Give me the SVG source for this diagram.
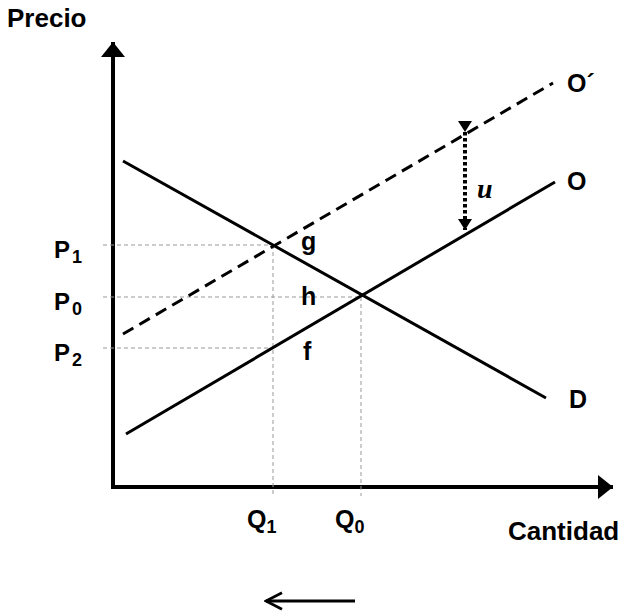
<svg xmlns="http://www.w3.org/2000/svg" width="627" height="616" viewBox="0 0 627 616">
<style>
.lbl{font-family:"Liberation Sans",Arial,sans-serif;font-weight:bold;fill:#000}
.big{font-size:26px}
.mid{font-size:25px}
.pl{font-size:24px}
.sub{font-size:18px}
.guide{stroke:#999;stroke-width:1;stroke-dasharray:4,3;fill:none}
.curve{stroke:#000;stroke-width:3;fill:none}
</style>
<defs>
<marker id="ah" viewBox="0 0 15 24" refX="15" refY="12" markerWidth="3.75" markerHeight="6" orient="auto" markerUnits="strokeWidth"><path d="M0,0 L15,12 L0,24 z" fill="#000"/></marker>
<marker id="ahs" viewBox="0 0 11 14" refX="11" refY="7" markerWidth="2.75" markerHeight="3.5" orient="auto" markerUnits="strokeWidth"><path d="M0,0 L11,7 L0,14 z" fill="#000"/></marker>
<marker id="open" viewBox="0 0 10 10" refX="9" refY="5" markerWidth="6.5" markerHeight="6.5" orient="auto" markerUnits="strokeWidth"><path d="M0.8,0.8 L9,5 L0.8,9.2" fill="none" stroke="#000" stroke-width="1.4"/></marker>
</defs>
<g id="axes">
<line x1="113" y1="489" x2="113" y2="42" stroke="#000" stroke-width="4" marker-end="url(#ah)"/>
<line x1="111" y1="487" x2="613" y2="487" stroke="#000" stroke-width="4" marker-end="url(#ah)"/>
</g>
<g id="guides">
<line class="guide" x1="103" y1="245" x2="273" y2="245"/>
<line class="guide" x1="103" y1="297" x2="361" y2="297"/>
<line class="guide" x1="103" y1="348" x2="273" y2="348"/>
<line class="guide" x1="273" y1="245" x2="273" y2="496"/>
<line class="guide" x1="361" y1="297" x2="361" y2="496"/>
</g>
<g id="connectors">
<line id="D" class="curve" x1="123" y1="161" x2="546" y2="398"/>
<line id="O" class="curve" x1="126" y1="434" x2="555" y2="182"/>
<line id="Oprime" class="curve" stroke-width="3.5" stroke-dasharray="12,7" x1="123" y1="334" x2="553" y2="83"/>
<line id="u-arrow" x1="465" y1="132" x2="465" y2="230" stroke="#000" stroke-width="4" stroke-dasharray="3.5,2.5" marker-start="url(#ahs)" marker-end="url(#ahs)"/>
<line id="shift" x1="355" y1="601" x2="266" y2="601" stroke="#000" stroke-width="3" marker-end="url(#open)"/>
</g>
<g id="labels">
<text class="lbl big" x="7" y="27">Precio</text>
<text class="lbl big" x="508" y="540">Cantidad</text>
<text class="lbl mid" x="567" y="92">O´</text>
<text class="lbl mid" x="567" y="190">O</text>
<text class="lbl mid" x="569" y="408">D</text>
<text class="lbl mid" x="301" y="250">g</text>
<text class="lbl mid" x="301" y="305">h</text>
<text class="lbl mid" x="303" y="360">f</text>
<text class="lbl pl" x="54" y="258">P<tspan class="sub" dx="2" dy="5">1</tspan></text>
<text class="lbl pl" x="54" y="310">P<tspan class="sub" dx="2" dy="5">0</tspan></text>
<text class="lbl pl" x="54" y="361">P<tspan class="sub" dx="2" dy="5">2</tspan></text>
<text class="lbl mid" x="247" y="528">Q<tspan class="sub" dy="5">1</tspan></text>
<text class="lbl mid" x="335" y="528">Q<tspan class="sub" dy="5">0</tspan></text>
<text x="477" y="198" font-family="'Liberation Serif','DejaVu Serif',serif" font-style="italic" font-weight="bold" font-size="28">u</text>
</g>
</svg>
